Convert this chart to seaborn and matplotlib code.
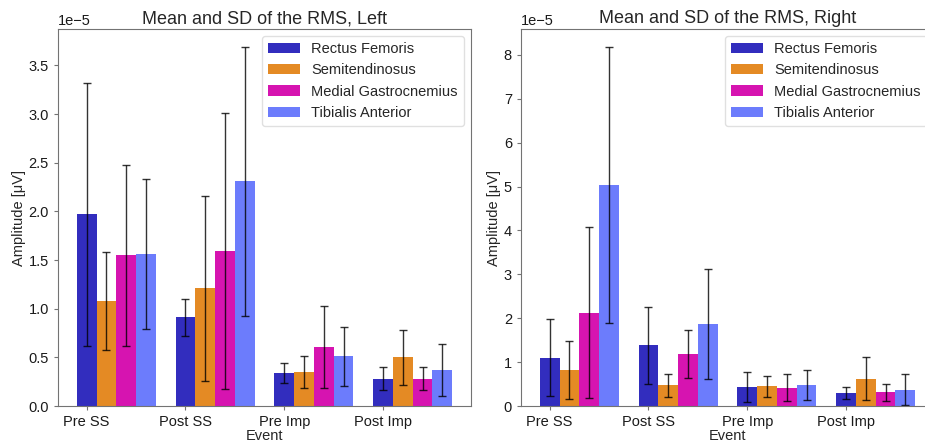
import numpy as np
import pandas as pd
import matplotlib
matplotlib.use("Agg")
import matplotlib.pyplot as plt
from matplotlib.container import BarContainer
import seaborn as sns

events = ["Pre SS", "Post SS", "Pre Imp", "Post Imp"]
muscles = ["Rectus Femoris", "Semitendinosus", "Medial Gastrocnemius", "Tibialis Anterior"]
colors = ["#322DBE", "#E48A24", "#D614B0", "#6C7CFC"]

# Left side (units of 1e-5 µV), rows = muscles, cols = events
left_mean = [
    [1.97, 0.91, 0.34, 0.28],
    [1.08, 1.21, 0.35, 0.50],
    [1.55, 1.59, 0.61, 0.28],
    [1.56, 2.31, 0.51, 0.37],
]
left_sd = [
    [1.35, 0.19, 0.10, 0.12],
    [0.50, 0.95, 0.16, 0.28],
    [0.93, 1.42, 0.42, 0.12],
    [0.77, 1.38, 0.30, 0.27],
]
# Right side
right_mean = [
    [1.10, 1.38, 0.43, 0.30],
    [0.82, 0.47, 0.45, 0.62],
    [2.13, 1.19, 0.42, 0.31],
    [5.03, 1.87, 0.48, 0.37],
]
right_sd = [
    [0.88, 0.88, 0.34, 0.13],
    [0.66, 0.26, 0.24, 0.49],
    [1.95, 0.55, 0.30, 0.20],
    [3.15, 1.25, 0.35, 0.35],
]
scale = 1e-5

sns.set_style("white", {"axes.edgecolor": "0.45", "xtick.bottom": True, "ytick.left": True,
                        "xtick.color": "0.45", "ytick.color": "0.45"})
plt.rcParams["font.family"] = ["Liberation Sans", "DejaVu Sans"]
plt.rcParams["xtick.labelcolor"] = "0.1"
plt.rcParams["ytick.labelcolor"] = "0.1"
plt.rcParams["xtick.major.size"] = 3
plt.rcParams["ytick.major.size"] = 3

W, H = 925, 448
fig = plt.figure(figsize=(W / 100, H / 100), dpi=100)
ax_l = fig.add_axes([58 / W, (H - 406) / H, 413 / W, (406 - 29) / H])
ax_r = fig.add_axes([521 / W, (H - 406) / H, 413 / W, (406 - 29) / H])


def draw(ax, means, sds, title):
    rows = []
    for mi, m in enumerate(muscles):
        for ei, e in enumerate(events):
            rows.append({"Event": e, "Muscle": m, "mean": means[mi][ei] * scale,
                         "sd": sds[mi][ei] * scale})
    df = pd.DataFrame(rows)
    sns.barplot(data=df, x="Event", y="mean", hue="Muscle", order=events, hue_order=muscles,
                palette=colors, saturation=1, errorbar=None, width=0.8, gap=0,
                linewidth=0, edgecolor="none", ax=ax)
    bar_conts = [c for c in ax.containers if isinstance(c, BarContainer)]
    lefts, rights = [], []
    first_centers = None
    for mi, cont in enumerate(bar_conts):
        xs = [p.get_x() + p.get_width() / 2 for p in cont.patches]
        lefts += [p.get_x() for p in cont.patches]
        rights += [p.get_x() + p.get_width() for p in cont.patches]
        if mi == 0:
            first_centers = xs
        sub = df[df["Muscle"] == muscles[mi]]
        ax.errorbar(xs, sub["mean"].values, yerr=sub["sd"].values, fmt="none",
                    ecolor="black", alpha=0.8, elinewidth=1, capsize=3, capthick=1)
    lo, hi = min(lefts), max(rights)
    span = hi - lo
    ax.set_xlim(lo - 0.05 * span, hi + 0.05 * span)
    ax.set_xticks(first_centers)
    ax.set_xticklabels(events, fontsize=10.5)
    ax.tick_params(axis="y", labelsize=10.5)
    ax.yaxis.get_offset_text().set_fontsize(10.5)
    ax.set_ylim(bottom=0)
    ax.set_xlabel("Event", fontsize=10.5, labelpad=0)
    ax.set_ylabel("Amplitude [\u03bcV]", fontsize=10.5, labelpad=2)
    ax.set_title(title, fontsize=13, pad=4)
    leg = ax.legend(loc="upper right", fontsize=10.5, frameon=True, handlelength=2.2)
    leg.set_title(None)
    leg.get_frame().set_edgecolor("0.85")


draw(ax_l, left_mean, left_sd, "Mean and SD of the RMS, Left")
draw(ax_r, right_mean, right_sd, "Mean and SD of the RMS, Right")

fig.savefig("out.png", dpi=100)
